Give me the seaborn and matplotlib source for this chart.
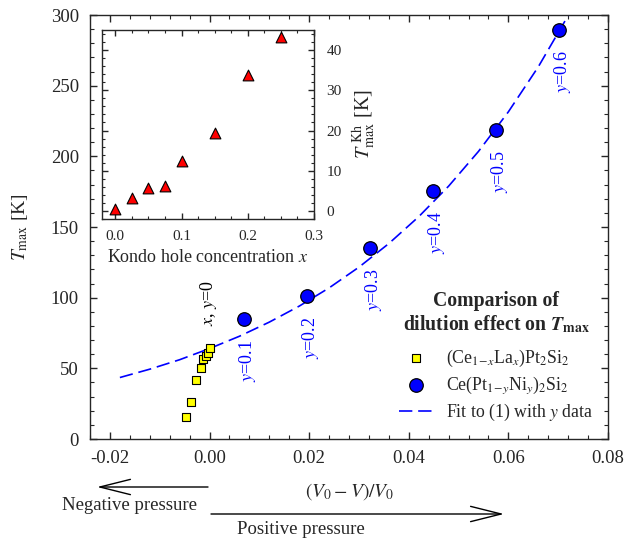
import numpy as np
import pandas as pd
import matplotlib
matplotlib.use("Agg")
import matplotlib.pyplot as plt
import seaborn as sns
from matplotlib.ticker import MultipleLocator, FormatStrFormatter

# ---------------- data ----------------
ni_labels = ["0.1", "0.2", "0.3", "0.4", "0.5", "0.6"]
ni_dv = [0.0069, 0.0196, 0.0323, 0.0449, 0.0576, 0.0702]
ni_tmax = [84.9, 101.2, 134.9, 175.7, 218.6, 289.4]

la_dv = [-0.0047, -0.0037, -0.0027, -0.0018, -0.0014, -0.0008, -0.0003, 0.0]
la_tmax = [15.8, 26.2, 41.7, 50.0, 56.6, 58.7, 61.0, 64.4]

fit_dv = [-0.018, -0.012, -0.006, 0.0, 0.006, 0.012, 0.018, 0.024, 0.030,
          0.036, 0.042, 0.048, 0.054, 0.060, 0.066, 0.072]
fit_tmax = [43.5, 49.4, 56.1, 64.0, 72.7, 82.7, 94.0, 106.9, 121.6,
            138.3, 157.3, 178.9, 203.5, 231.5, 263.3, 299.6]

kh_x = [0.0, 0.025, 0.05, 0.075, 0.1, 0.15, 0.2, 0.25]
kh_t = [0.4, 3.3, 5.7, 6.2, 12.4, 19.4, 33.8, 43.3]

lab_la = r"(Ce$_{1\!-\!x}$La$_{x}$)Pt$_2$Si$_2$"
lab_ni = r"Ce(Pt$_{1\!-\!y}$Ni$_{y}$)$_2$Si$_2$"
lab_fit = r"Fit to (1) with $y$ data"

# ---------------- style ----------------
sns.set_style("ticks")
plt.rcParams["font.family"] = ["Liberation Serif", "DejaVu Serif"]
plt.rcParams["mathtext.fontset"] = "stix"
plt.rcParams["axes.linewidth"] = 1.0

W, H = 625, 540
fig = plt.figure(figsize=(6.25, 5.4), dpi=100)
ax = fig.add_axes([90 / W, 1 - 439 / H, 518 / W, 424 / H])

# fit line
sns.lineplot(x=fit_dv, y=fit_tmax, ax=ax, color="#0000ff", lw=1.2,
             linestyle=(0, (8, 3.5)), estimator=None, sort=False,
             label=lab_fit, zorder=2)
# La-doped squares
sns.scatterplot(x=la_dv, y=la_tmax, ax=ax, marker="s", s=40, color="#ffff00",
                edgecolor="black", linewidth=0.8, label=lab_la, zorder=3)
# Ni-doped circles
sns.scatterplot(x=ni_dv, y=ni_tmax, ax=ax, marker="o", s=95, color="#0000ff",
                edgecolor="black", linewidth=0.9, label=lab_ni, zorder=4)

ax.set_xlim(-0.024, 0.08)
ax.set_ylim(0, 300)
ax.xaxis.set_major_locator(MultipleLocator(0.02))
ax.xaxis.set_minor_locator(MultipleLocator(0.004))
ax.yaxis.set_major_locator(MultipleLocator(50))
ax.yaxis.set_minor_locator(MultipleLocator(10))
ax.xaxis.set_major_formatter(FormatStrFormatter("%.2f"))
ax.yaxis.set_major_formatter(FormatStrFormatter("%d"))
ax.tick_params(which="both", direction="in", top=True, right=True,
               labelsize=13.5, pad=8)
ax.tick_params(which="major", length=5, width=1)
ax.tick_params(which="minor", length=3, width=0.8)

ax.set_ylabel(r"$T_{\rm max}$ [K]", fontsize=14)
ax.yaxis.set_label_coords(-0.135, 0.5)
ax.yaxis.label.set_verticalalignment("center")
ax.set_xlabel(r"$(V_0 - V)/V_0$", fontsize=14)
ax.xaxis.set_label_coords((350 - 90) / 518, (439 - 492) / 424)
ax.xaxis.label.set_verticalalignment("center")

# y = ... labels under each circle
for xv, tv, lab in zip(ni_dv, ni_tmax, ni_labels):
    ax.annotate(r"$y$=" + lab, xy=(xv, tv), xytext=(2.5, -30),
                textcoords="offset points", rotation=90, ha="center",
                va="center", color="#0000ff", fontsize=13)
ax.annotate(r"$x$, $y$=0", xy=(la_dv[-1], la_tmax[-1]), xytext=(-1, 32),
            textcoords="offset points", rotation=90, ha="center",
            va="center", color="black", fontsize=13)

# legend
h, l = ax.get_legend_handles_labels()
order = [l.index(lab_la), l.index(lab_ni), l.index(lab_fit)]
title = "Comparison of\n" + r"dilution effect on $\mathbfit{T}_{\mathbf{max}}$"
leg = ax.legend([h[i] for i in order], [l[i] for i in order], title=title,
                loc="lower right", bbox_to_anchor=(0.986, 0.02),
                borderaxespad=0, frameon=False, fontsize=12.8,
                title_fontsize=14.2, handlelength=1.9, handletextpad=0.75,
                labelspacing=0.33)
leg.get_title().set_fontweight("bold")
leg.get_title().set_multialignment("center")
leg.get_title().set_linespacing(1.15)
leg._legend_box.sep = 9

# pressure arrows and texts below the axis
def fpt(px, py):
    return (px / W, 1 - py / H)

arrow_kw = dict(arrowstyle="->,head_length=2.2,head_width=0.55", lw=1.0,
                color="black", shrinkA=0, shrinkB=0, mutation_scale=10)
ax.annotate("", xy=fpt(97, 487), xytext=fpt(208, 487),
            xycoords="figure fraction", textcoords="figure fraction",
            arrowprops=arrow_kw, annotation_clip=False)
ax.annotate("", xy=fpt(504, 514), xytext=fpt(211, 514),
            xycoords="figure fraction", textcoords="figure fraction",
            arrowprops=arrow_kw, annotation_clip=False)
fig.text(*fpt(130, 506), "Negative pressure", ha="center", va="center",
         fontsize=13.5)
fig.text(*fpt(301, 530), "Positive pressure", ha="center", va="center",
         fontsize=13.5)

# ---------------- inset ----------------
axi = fig.add_axes([102 / W, 1 - 219 / H, 212 / W, 189 / H])
sns.scatterplot(x=kh_x, y=kh_t, ax=axi, marker="^", s=60, color="#ff0000",
                edgecolor="black", linewidth=0.8, zorder=3, legend=False)
axi.set_xlim(-0.02, 0.3)
axi.set_ylim(-2, 45)
axi.xaxis.set_major_locator(MultipleLocator(0.1))
axi.xaxis.set_minor_locator(MultipleLocator(0.025))
axi.yaxis.set_major_locator(MultipleLocator(10))
axi.yaxis.set_minor_locator(MultipleLocator(2))
axi.xaxis.set_major_formatter(FormatStrFormatter("%.1f"))
axi.yaxis.set_major_formatter(FormatStrFormatter("%d"))
axi.yaxis.tick_right()
axi.yaxis.set_label_position("right")
axi.tick_params(which="both", direction="in", top=True, right=True, left=True,
                labelleft=False, labelright=True, labelsize=11)
axi.tick_params(axis="x", pad=8)
axi.tick_params(axis="y", pad=9)
axi.tick_params(which="major", length=4.5, width=1)
axi.tick_params(which="minor", length=2.5, width=0.8)
axi.set_xlabel(r"Kondo hole concentration $x$", fontsize=13)
axi.xaxis.set_label_coords(0.5, (219 - 257) / 189)
axi.xaxis.label.set_verticalalignment("center")
axi.set_ylabel(r"$T_{\rm max}^{\ \rm Kh}$ [K]", fontsize=14.5)
axi.yaxis.set_label_coords((364 - 102) / 212, 0.5)
axi.yaxis.label.set_verticalalignment("center")

fig.savefig("out.png", dpi=100)
